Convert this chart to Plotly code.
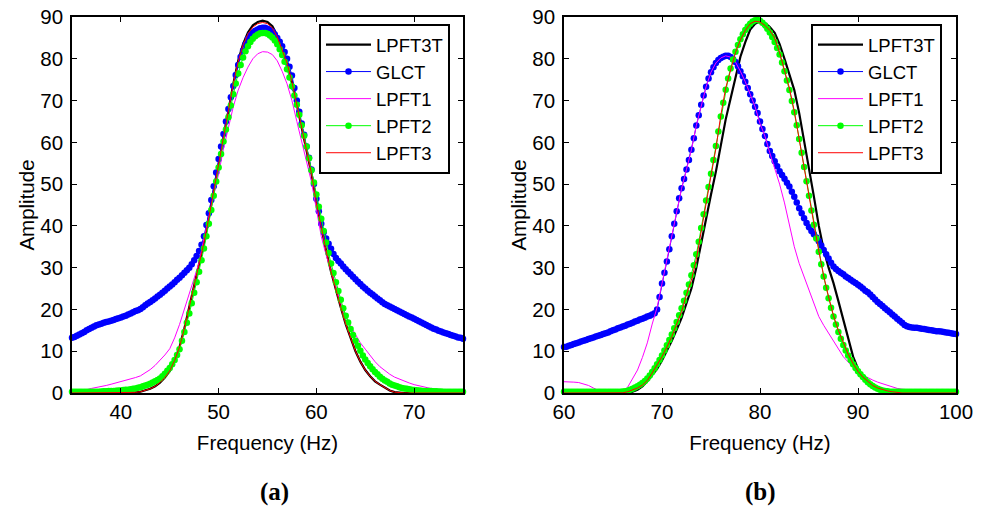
import numpy as np
import plotly.graph_objects as go

# ---------------- data: panel (a) ----------------
a_x_line = np.round(35 + 0.5 * np.arange(81), 2)
a_x_mark = np.round(35 + 0.25 * np.arange(161), 2)

a_lpft3t = [0,0,0,0,0,0,0,0,0,0,0,0,
            0.05,0.15,0.3,0.6,1.0,1.6,2.5,3.7,5.3,7.8,
            11,15.5,20.5,25.5,30.5,36,42,48.5,55.5,61.5,
            68,74,79.5,83.5,86.3,88,88.8,89.1,88.8,87.8,
            85.5,82.5,79,74.5,69,63.5,58,52.5,45.5,39.5,
            34,29,24.5,20.5,16.5,13,10,7.5,5.5,4,
            2.8,2,1.2,0.6,0.2,0.05,
            0,0,0,0,0,0,0,0,0,0,0,0,0]

a_lpft3 = [0,0,0,0,0,0,0,0,0,0,0,0,
           0.05,0.15,0.3,0.6,1.0,1.6,2.5,3.7,5.3,7.8,
           11,15.5,20.5,25.5,30.5,36,42,48.5,55.5,61.5,
           68,74,79.3,83.3,86.0,87.6,88.4,88.7,88.4,87.4,
           85.2,82.3,79,74.5,69,63.5,58,52.5,45.5,39.5,
           34,29,24.5,20.5,16.5,13,10,7.5,5.5,4,
           2.8,2,1.2,0.6,0.2,0.05,
           0,0,0,0,0,0,0,0,0,0,0,0,0]

a_lpft1 = [0.3,0.45,0.6,0.8,1.1,1.3,1.6,1.8,2.1,2.4,
           2.7,3.0,3.3,3.7,4.1,4.8,5.6,6.6,7.8,9.1,
           10.6,13.2,16.4,20.0,23.8,27.5,31.2,37.0,42.0,47.0,
           52.5,58.5,63.5,68.5,72.5,75.5,78.0,80.0,81.2,81.7,
           81.6,81.0,79.5,77.0,74.0,70.0,65.0,60.0,55.0,50.5,
           44.0,37.5,33.0,29.0,25.0,21.5,18.5,16.0,14.0,12.0,
           10.5,9.0,7.5,6.3,5.3,4.5,3.8,3.3,2.8,2.4,
           2.0,1.7,1.4,1.2,1.0,0.85,0.7,0.6,0.5,0.45,
           0.4]

a_lpft2 = [0.3,0.3,0.3,0.3,0.3,0.3,0.3,0.3,0.3,0.3,0.3,0.3,
           0.35,0.4,0.4,0.45,0.45,0.5,0.55,0.6,
           0.6,0.7,0.75,0.8,0.9,1.0,1.1,1.25,
           1.4,1.6,1.8,2.0,2.2,2.5,2.8,3.1,
           3.5,4.0,4.6,5.3,6.0,6.9,7.9,9.1,
           10.5,12.5,14.6,16.8,19.0,21.5,24.0,26.5,
           29.0,31.8,34.6,37.5,40.5,43.8,47.2,50.6,
           54.0,57.2,60.2,63.1,66.0,68.8,71.5,74.1,
           76.5,78.5,80.3,81.8,83.0,84.0,84.8,85.4,
           85.8,86.1,86.2,86.2,86.0,85.6,85.1,84.4,
           83.5,82.3,80.9,79.3,77.5,75.5,73.4,71.2,
           69.0,66.6,64.1,61.6,59.0,56.2,53.3,50.4,
           47.5,44.6,41.7,38.8,36.0,33.5,31.0,28.7,
           26.5,24.4,22.3,20.3,18.5,16.9,15.3,13.9,
           12.5,11.3,10.1,9.0,8.0,7.2,6.4,5.7,
           5.0,4.5,3.9,3.4,3.0,2.7,2.3,2.0,
           1.8,1.6,1.4,1.2,1.1,1.0,0.9,0.8,
           0.7,0.65,0.6,0.55,0.5,0.5,0.45,0.45,
           0.4,0.4,0.35,0.35,
           0.3,0.3,0.3,0.3,0.3,0.3,0.3,0.3,0.3]

a_glct = [13.2,13.4,13.7,14.0,14.3,14.6,15.0,15.3,
          15.6,15.9,16.2,16.4,16.6,16.8,17.0,17.1,
          17.3,17.5,17.7,17.9,18.1,18.3,18.5,18.8,
          19.0,19.3,19.6,19.8,20.1,20.5,21.0,21.4,
          21.8,22.2,22.6,23.1,23.5,24.0,24.5,25.0,
          25.5,26.0,26.5,27.1,27.6,28.2,28.8,29.4,
          30.0,30.8,31.8,32.8,34.0,35.5,37.5,40.2,
          43.0,46.2,49.5,52.8,56.0,59.0,62.0,65.0,
          68.0,70.8,73.5,76.1,78.5,80.4,82.0,83.5,
          84.8,85.7,86.3,86.7,87.0,87.3,87.4,87.4,
          87.2,86.9,86.5,85.8,85.0,84.1,83.0,81.6,
          80.0,78.1,76.0,73.0,70.0,67.3,64.5,61.8,
          59.0,56.3,53.5,50.0,46.5,43.5,40.5,38.5,
          37.0,35.7,34.5,33.3,32.3,31.6,31.0,30.3,
          29.6,29.0,28.4,27.8,27.2,26.6,26.1,25.5,
          25.0,24.5,24.0,23.6,23.1,22.6,22.2,21.7,
          21.3,21.0,20.7,20.4,20.1,19.8,19.5,19.2,
          18.9,18.6,18.3,18.1,17.8,17.5,17.2,16.9,
          16.6,16.3,16.0,15.7,15.4,15.2,14.9,14.7,
          14.5,14.3,14.1,13.9,13.7,13.5,13.3,13.2,
          13.0]

# ---------------- data: panel (b) ----------------
b_x_line = np.round(60 + 0.5 * np.arange(81), 2)
b_x_mark = np.round(60 + 0.25 * np.arange(161), 2)

b_lpft3t = [0,0,0,0,0,0,0,0,0,0,0,0,0,
            0.05,0.3,0.8,1.6,2.8,4.3,5.8,7.8,10.0,12.5,
            15.2,18.0,21.5,25.0,30.0,36.0,42.0,47.5,53.0,59.5,
            65.5,70.5,75.5,80.5,84.0,87.0,88.4,89.0,88.6,87.6,
            86.2,83.5,80.0,76.5,72.5,67.0,60.5,54.5,47.0,40.0,
            34.3,30.0,26.3,22.0,17.5,13.0,8.7,5.8,3.9,2.5,
            1.6,1.0,0.6,0.4,0.2,0.05,
            0,0,0,0,0,0,0,0,0,0,0,0]

b_lpft3 = [0,0,0,0,0,0,0,0,0,0,0,0,
           0.05,0.3,0.7,1.2,1.9,3.0,4.8,6.6,8.7,11.0,
           13.5,16.5,19.5,23.5,27.0,32.0,39.0,45.5,52.0,58.5,
           66.5,73.0,77.5,81.5,84.5,86.8,88.4,89.0,88.8,88.0,
           86.8,85.0,81.5,77.5,73.0,67.5,60.5,54.5,47.5,40.5,
           34.0,28.0,23.0,18.5,15.0,12.0,9.3,7.0,5.2,3.8,
           2.7,1.8,1.2,0.8,0.5,0.3,0.1,
           0,0,0,0,0,0,0,0,0,0,0,0]

b_lpft1 = [2.7,2.7,2.6,2.5,2.2,1.8,1.2,0.6,0.3,0.3,
           0.3,0.3,0.4,1.4,3.5,5.5,8.5,12.0,16.5,20.5,
           26.2,31.7,37.5,43.5,49.0,53.5,58.2,64.0,69.0,73.3,
           76.8,79.0,80.2,80.7,80.4,79.2,77.0,74.5,71.5,68.5,
           64.5,61.5,57.5,54.0,50.0,45.5,40.5,35.0,31.0,27.8,
           24.5,21.0,18.3,16.2,14.3,12.5,10.6,8.7,7.4,6.2,
           5.1,4.3,3.6,3.1,2.6,2.2,1.8,1.4,1.1,0.9,
           0.8,0.7,0.6,0.5,0.4,0.4,0.3,0.3,0.3,0.3,
           0.3]

b_lpft2 = [0.3]*24 + [
           0.35,0.4,0.55,0.75,1.0,1.3,1.6,2.0,
           2.4,2.9,3.5,4.2,5.0,5.9,6.9,7.9,
           9.0,10.2,11.4,12.7,14.0,15.5,17.0,18.6,
           20.3,22.1,24.0,26.0,28.2,30.6,33.2,36.2,
           39.5,42.8,46.1,49.3,52.5,55.8,59.1,62.6,
           66.2,69.5,72.6,75.3,77.7,79.8,81.7,83.3,
           84.7,85.9,86.9,87.7,88.4,88.9,89.2,89.3,
           89.1,88.6,88.0,87.2,86.3,85.2,84.0,82.6,
           81.0,79.1,77.0,74.8,72.5,69.9,67.2,64.1,
           60.8,57.5,54.1,50.7,47.2,43.7,40.3,37.0,
           33.8,30.8,27.9,25.2,22.7,20.4,18.3,16.4,
           14.6,13.0,11.5,10.2,9.0,7.9,6.9,6.0,
           5.2,4.5,3.8,3.2,2.6,2.1,1.7,1.3,
           1.0,0.8,0.6,0.5,0.4] + [0.3]*28

b_glct = [11.0,11.1,11.3,11.5,11.7,11.9,12.1,12.3,
          12.5,12.7,12.9,13.1,13.3,13.5,13.7,13.9,
          14.1,14.3,14.5,14.8,15.0,15.2,15.5,15.7,
          15.9,16.1,16.4,16.6,16.8,17.1,17.3,17.6,
          17.8,18.0,18.3,18.5,18.8,19.1,20.0,23.0,
          26.2,28.8,31.5,34.4,37.5,40.5,43.5,46.6,
          49.0,51.2,53.5,55.8,58.2,61.0,64.0,66.5,
          69.0,71.2,73.3,75.3,76.8,78.0,79.0,79.7,
          80.2,80.5,80.7,80.7,80.4,79.9,79.2,78.2,
          77.0,75.8,74.5,73.0,71.5,70.0,68.5,67.0,
          65.0,63.2,61.5,59.6,57.9,56.7,55.5,54.3,
          53.1,52.2,51.3,50.3,49.4,48.2,47.0,45.6,
          44.2,43.0,41.8,40.7,39.7,38.8,38.0,37.2,
          36.3,35.3,34.2,33.2,32.2,31.2,30.3,29.7,
          29.2,28.8,28.4,27.9,27.5,27.1,26.7,26.3,
          25.9,25.5,25.0,24.5,24.1,23.6,23.0,22.4,
          21.8,21.3,20.8,20.3,19.8,19.3,18.8,18.3,
          17.8,17.3,16.8,16.3,16.0,15.8,15.7,15.6,
          15.6,15.5,15.4,15.3,15.2,15.1,15.0,14.9,
          14.8,14.8,14.7,14.6,14.5,14.4,14.3,14.2,
          14.1]

for name, arr, n in [("a_lpft3t", a_lpft3t, 81), ("a_lpft3", a_lpft3, 81), ("a_lpft1", a_lpft1, 81),
                     ("a_lpft2", a_lpft2, 161), ("a_glct", a_glct, 161),
                     ("b_lpft3t", b_lpft3t, 81), ("b_lpft3", b_lpft3, 81), ("b_lpft1", b_lpft1, 81),
                     ("b_lpft2", b_lpft2, 161), ("b_glct", b_glct, 161)]:
    assert len(arr) == n, (name, len(arr))

x_ticks_a = [40, 50, 60, 70]
x_ticks_b = [60, 70, 80, 90, 100]
y_ticks = [0, 10, 20, 30, 40, 50, 60, 70, 80, 90]

FONT = "Liberation Sans, Arial, sans-serif"
SERIF = "Liberation Serif, Times New Roman, serif"
FS = 20.5

fig = go.Figure()

def add_panel(xl, xm, t3t, glct, l1, l2, l3, xa, ya, leg):
    fig.add_trace(go.Scatter(x=xl, y=t3t, mode="lines", name="LPFT3T",
                             line=dict(color="black", width=2.2),
                             xaxis=xa, yaxis=ya, legend=leg))
    fig.add_trace(go.Scatter(x=xm, y=glct, mode="lines+markers", name="GLCT",
                             line=dict(color="#0000ff", width=1),
                             marker=dict(color="#0000ff", size=6.5, symbol="circle"),
                             cliponaxis=False, xaxis=xa, yaxis=ya, legend=leg))
    fig.add_trace(go.Scatter(x=xl, y=l1, mode="lines", name="LPFT1",
                             line=dict(color="#ff00ff", width=1),
                             xaxis=xa, yaxis=ya, legend=leg))
    fig.add_trace(go.Scatter(x=xm, y=l2, mode="lines+markers", name="LPFT2",
                             line=dict(color="#00ff00", width=1),
                             marker=dict(color="#00ff00", size=6.5, symbol="circle"),
                             cliponaxis=False, xaxis=xa, yaxis=ya, legend=leg))
    fig.add_trace(go.Scatter(x=xl, y=l3, mode="lines", name="LPFT3",
                             line=dict(color="#ff0000", width=1),
                             xaxis=xa, yaxis=ya, legend=leg))

add_panel(a_x_line, a_x_mark, a_lpft3t, a_glct, a_lpft1, a_lpft2, a_lpft3, "x", "y", "legend")
add_panel(b_x_line, b_x_mark, b_lpft3t, b_glct, b_lpft1, b_lpft2, b_lpft3, "x2", "y2", "legend2")

axis_common = dict(showline=True, linecolor="black", linewidth=1.5, mirror="ticks",
                   ticks="inside", ticklen=5, tickwidth=1, tickcolor="black",
                   showgrid=False, zeroline=False,
                   tickfont=dict(family=FONT, size=FS, color="black"),
                   automargin=False)

L, R, T, B = 72, 28, 17, 116
W, H = 984, 509
pw = W - L - R
ph = H - T - B

def px_to_paper_x(px):
    return (px - L) / pw

def px_to_paper_y(py):
    return (H - B - py) / ph

legend_common = dict(xanchor="left", yanchor="top",
                     bgcolor="white", bordercolor="black", borderwidth=2,
                     font=dict(family=FONT, size=18.5), itemwidth=45, tracegroupgap=0)

fig.update_layout(
    width=W, height=H,
    margin=dict(l=L, r=R, t=T, b=B),
    paper_bgcolor="white", plot_bgcolor="white",
    font=dict(family=FONT, size=FS, color="black"),
    xaxis=dict(domain=[0, px_to_paper_x(463)], range=[35, 75], tickvals=x_ticks_a,
               title=dict(text="Frequency (Hz)", standoff=13, font=dict(size=FS)), **axis_common),
    yaxis=dict(domain=[0, 1], range=[0, 90], tickvals=y_ticks, ticklabelstandoff=3,
               title=dict(text="Amplitude", standoff=0, font=dict(size=FS)), **axis_common),
    xaxis2=dict(domain=[px_to_paper_x(564), 1], range=[60, 100], tickvals=x_ticks_b, anchor="y2",
                title=dict(text="Frequency (Hz)", standoff=13, font=dict(size=FS)), **axis_common),
    yaxis2=dict(domain=[0, 1], range=[0, 90], tickvals=y_ticks, anchor="x2", ticklabelstandoff=3,
                title=dict(text="Amplitude", standoff=0, font=dict(size=FS)), **axis_common),
    legend=dict(x=px_to_paper_x(319), y=px_to_paper_y(24), **legend_common),
    legend2=dict(x=px_to_paper_x(811), y=px_to_paper_y(24), **legend_common),
    showlegend=True,
    annotations=[
        dict(text="<b>(a)</b>", x=px_to_paper_x(274), y=px_to_paper_y(492), xref="paper", yref="paper",
             xanchor="center", yanchor="middle", showarrow=False,
             font=dict(family=SERIF, size=25, color="black")),
        dict(text="<b>(b)</b>", x=px_to_paper_x(760), y=px_to_paper_y(492), xref="paper", yref="paper",
             xanchor="center", yanchor="middle", showarrow=False,
             font=dict(family=SERIF, size=25, color="black")),
    ],
)

fig.write_html("out.html")
